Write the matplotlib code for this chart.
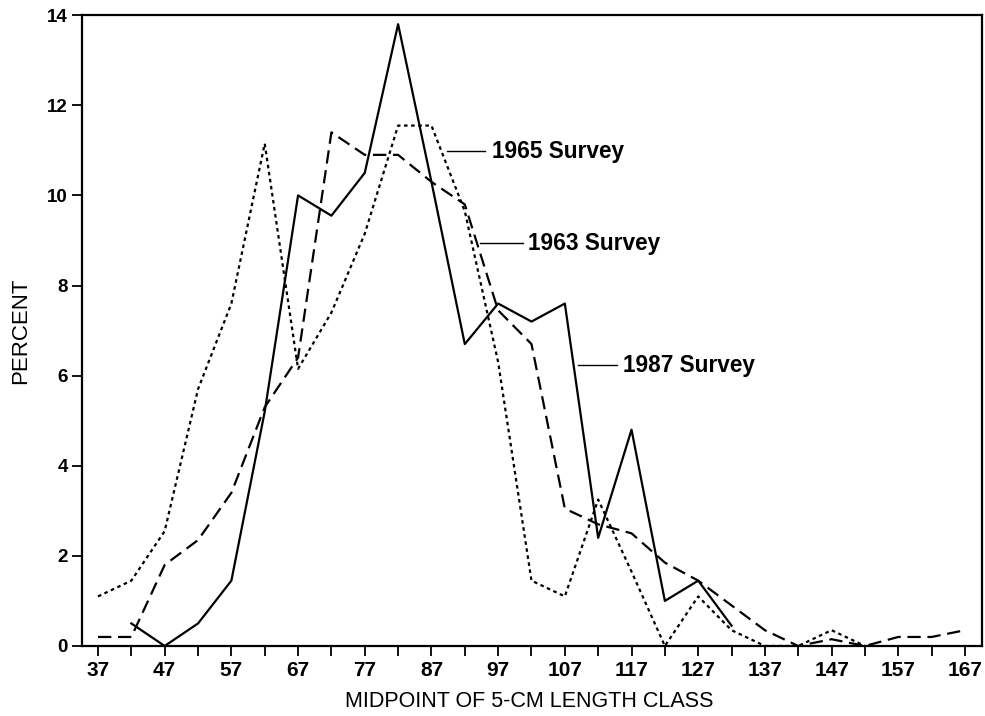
import matplotlib
matplotlib.use("Agg")
import matplotlib.pyplot as plt
import numpy as np

plt.rcParams['font.family'] = ['Liberation Sans', 'DejaVu Sans']

midpoints = list(range(37, 168, 5))

# 1987 Survey (solid), classes 42..132
x_1987 = list(range(42, 133, 5))
y_1987 = [0.5, 0.0, 0.5, 1.45, 5.2, 10.0, 9.55, 10.5, 13.8, 10.3, 6.7, 7.6, 7.2, 7.6,
          2.4, 4.8, 1.0, 1.45, 0.45]

# 1963 Survey (dashed), classes 37..167
x_1963 = midpoints
y_1963 = [0.2, 0.2, 1.8, 2.35, 3.4, 5.3, 6.4, 11.4, 10.9, 10.9, 10.3, 9.8, 7.45, 6.7,
          3.05, 2.7, 2.5, 1.85, 1.45, 0.9, 0.35, 0.0, 0.15, 0.0, 0.2, 0.2, 0.35]

# 1965 Survey (dotted), classes 37..152
x_1965 = list(range(37, 153, 5))
y_1965 = [1.1, 1.45, 2.55, 5.7, 7.6, 11.15, 6.15, 7.4, 9.15, 11.55, 11.55, 9.65, 6.3,
          1.45, 1.1, 3.25, 1.65, 0.0, 1.1, 0.35, 0.0, 0.0, 0.35, 0.0]

yticks = list(range(0, 15, 2))

fig = plt.figure(figsize=(9.85, 7.16), dpi=100)
ax = fig.add_axes([0.0829, 0.0978, 0.9137, 0.881])

ax.plot(x_1987, y_1987, color='black', lw=1.6, linestyle='-')
ax.plot(x_1963, y_1963, color='black', lw=1.6, linestyle=(0, (6, 3)))
ax.plot(x_1965, y_1965, color='black', lw=1.6, linestyle=(0, (1.6, 1.6)))

ax.set_xlim(34.55, 169.5)
ax.set_ylim(0, 14)

ax.set_xticks(midpoints)
ax.set_xticklabels([str(v) if (v - 37) % 10 == 0 else '' for v in midpoints])
ax.set_yticks(yticks)
ax.set_yticklabels([str(v) for v in yticks])

ax.tick_params(axis='both', direction='out', length=7, width=1.3, colors='black')
ax.tick_params(axis='x', labelsize=15, pad=4)
ax.tick_params(axis='y', labelsize=13.5, pad=3)
for lab in ax.get_yticklabels() + ax.get_xticklabels():
    lab.set_fontweight('bold')

for sp in ax.spines.values():
    sp.set_linewidth(1.6)

ax.set_xlabel('MIDPOINT OF 5-CM LENGTH CLASS', fontsize=15.5)
ax.xaxis.set_label_coords(0.497, -0.071)
ax.set_ylabel('PERCENT', fontsize=16)
ax.yaxis.set_label_coords(-0.056, 0.5)

# Series labels with leader lines
labels = ['1965 Survey', '1963 Survey', '1987 Survey']
label_y = [10.98, 8.94, 6.23]
leader_x0 = [89.3, 94.3, 109.0]
leader_x1 = [95.0, 100.7, 114.8]
text_x = [96.1, 101.5, 115.7]
for lab, yy, a, b, tx in zip(labels, label_y, leader_x0, leader_x1, text_x):
    ax.plot([a, b], [yy, yy], color='black', lw=1.0)
    ax.text(tx, yy, lab, fontsize=16.3, fontweight='bold', va='center', ha='left')

fig.savefig('out.png', dpi=100)
